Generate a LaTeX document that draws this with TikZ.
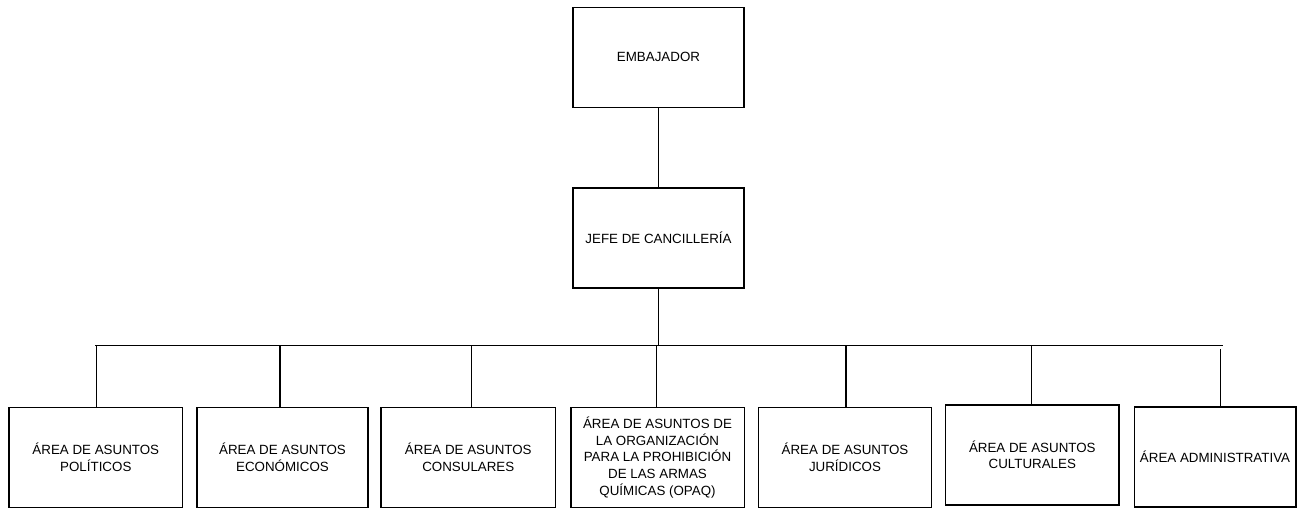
\documentclass[tikz,border=0pt]{standalone}
\usepackage{fontspec}
\setmainfont{Liberation Sans}

\begin{document}
\begin{tikzpicture}[x=0.02cm,y=-0.02cm,
  caja/.style={draw,line width=.85pt,align=center,inner sep=0pt,
    minimum width=3.47cm,minimum height=2cm,
    font=\fontsize{7.6}{9.45}\selectfont},
  linea/.style={line width=.8pt}]
  \useasboundingbox (0,0) rectangle (1310,507);

  \node[caja,minimum width=3.42cm] (emb) at (658.5,57.3) {EMBAJADOR};
  \node[caja,minimum width=3.42cm,minimum height=2.01cm] (jefe) at (658.5,238) {JEFE DE CANCILLERÍA};

  \node[caja] (pol) at (95.8,457.5) {ÁREA DE ASUNTOS\\POLÍTICOS};
  \node[caja,minimum width=3.43cm] (eco) at (282.5,457.5) {ÁREA DE ASUNTOS\\ECONÓMICOS};
  \node[caja,minimum width=3.49cm] (con) at (468.3,457.5) {ÁREA DE ASUNTOS\\CONSULARES};
  \node[caja] (opaq) at (657.5,457.5) {ÁREA DE ASUNTOS DE\\LA ORGANIZACIÓN\\PARA LA PROHIBICIÓN\\DE LAS ARMAS\\QUÍMICAS (OPAQ)};
  \node[caja] (jur) at (845,457.5) {ÁREA DE ASUNTOS\\JURÍDICOS};
  \node[caja] (cul) at (1032.3,454.8) {ÁREA DE ASUNTOS\\CULTURALES};
  \node[caja,minimum width=3.23cm] (adm) at (1215,457) {ÁREA ADMINISTRATIVA};

  % barra horizontal
  \coordinate (bizq) at (95,345.7);
  \coordinate (bder) at (1222.7,345.7);
  \coordinate (d1) at (96.7,345.7);
  \coordinate (d2) at (280,345.7);
  \coordinate (d3) at (471.7,345.7);
  \coordinate (d4) at (656.7,345.7);
  \coordinate (d5) at (846,345.7);
  \coordinate (d6) at (1031.7,345.7);
  \coordinate (d7) at (1220.7,349);

  \draw[linea] (emb.south) -- (jefe.north);
  \draw[linea] (jefe.south) -- (jefe.south |- bizq);
  \draw[linea] (bizq) -- (bder);

  \draw[linea] (d1) -- (d1 |- pol.north);
  \draw[linea] (d2) -- (d2 |- eco.north);
  \draw[linea] (d3) -- (d3 |- con.north);
  \draw[linea] (d4) -- (d4 |- opaq.north);
  \draw[linea] (d5) -- (d5 |- jur.north);
  \draw[linea] (d6) -- (d6 |- cul.north);
  \draw[linea] (d7) -- (d7 |- adm.north);
\end{tikzpicture}
\end{document}
